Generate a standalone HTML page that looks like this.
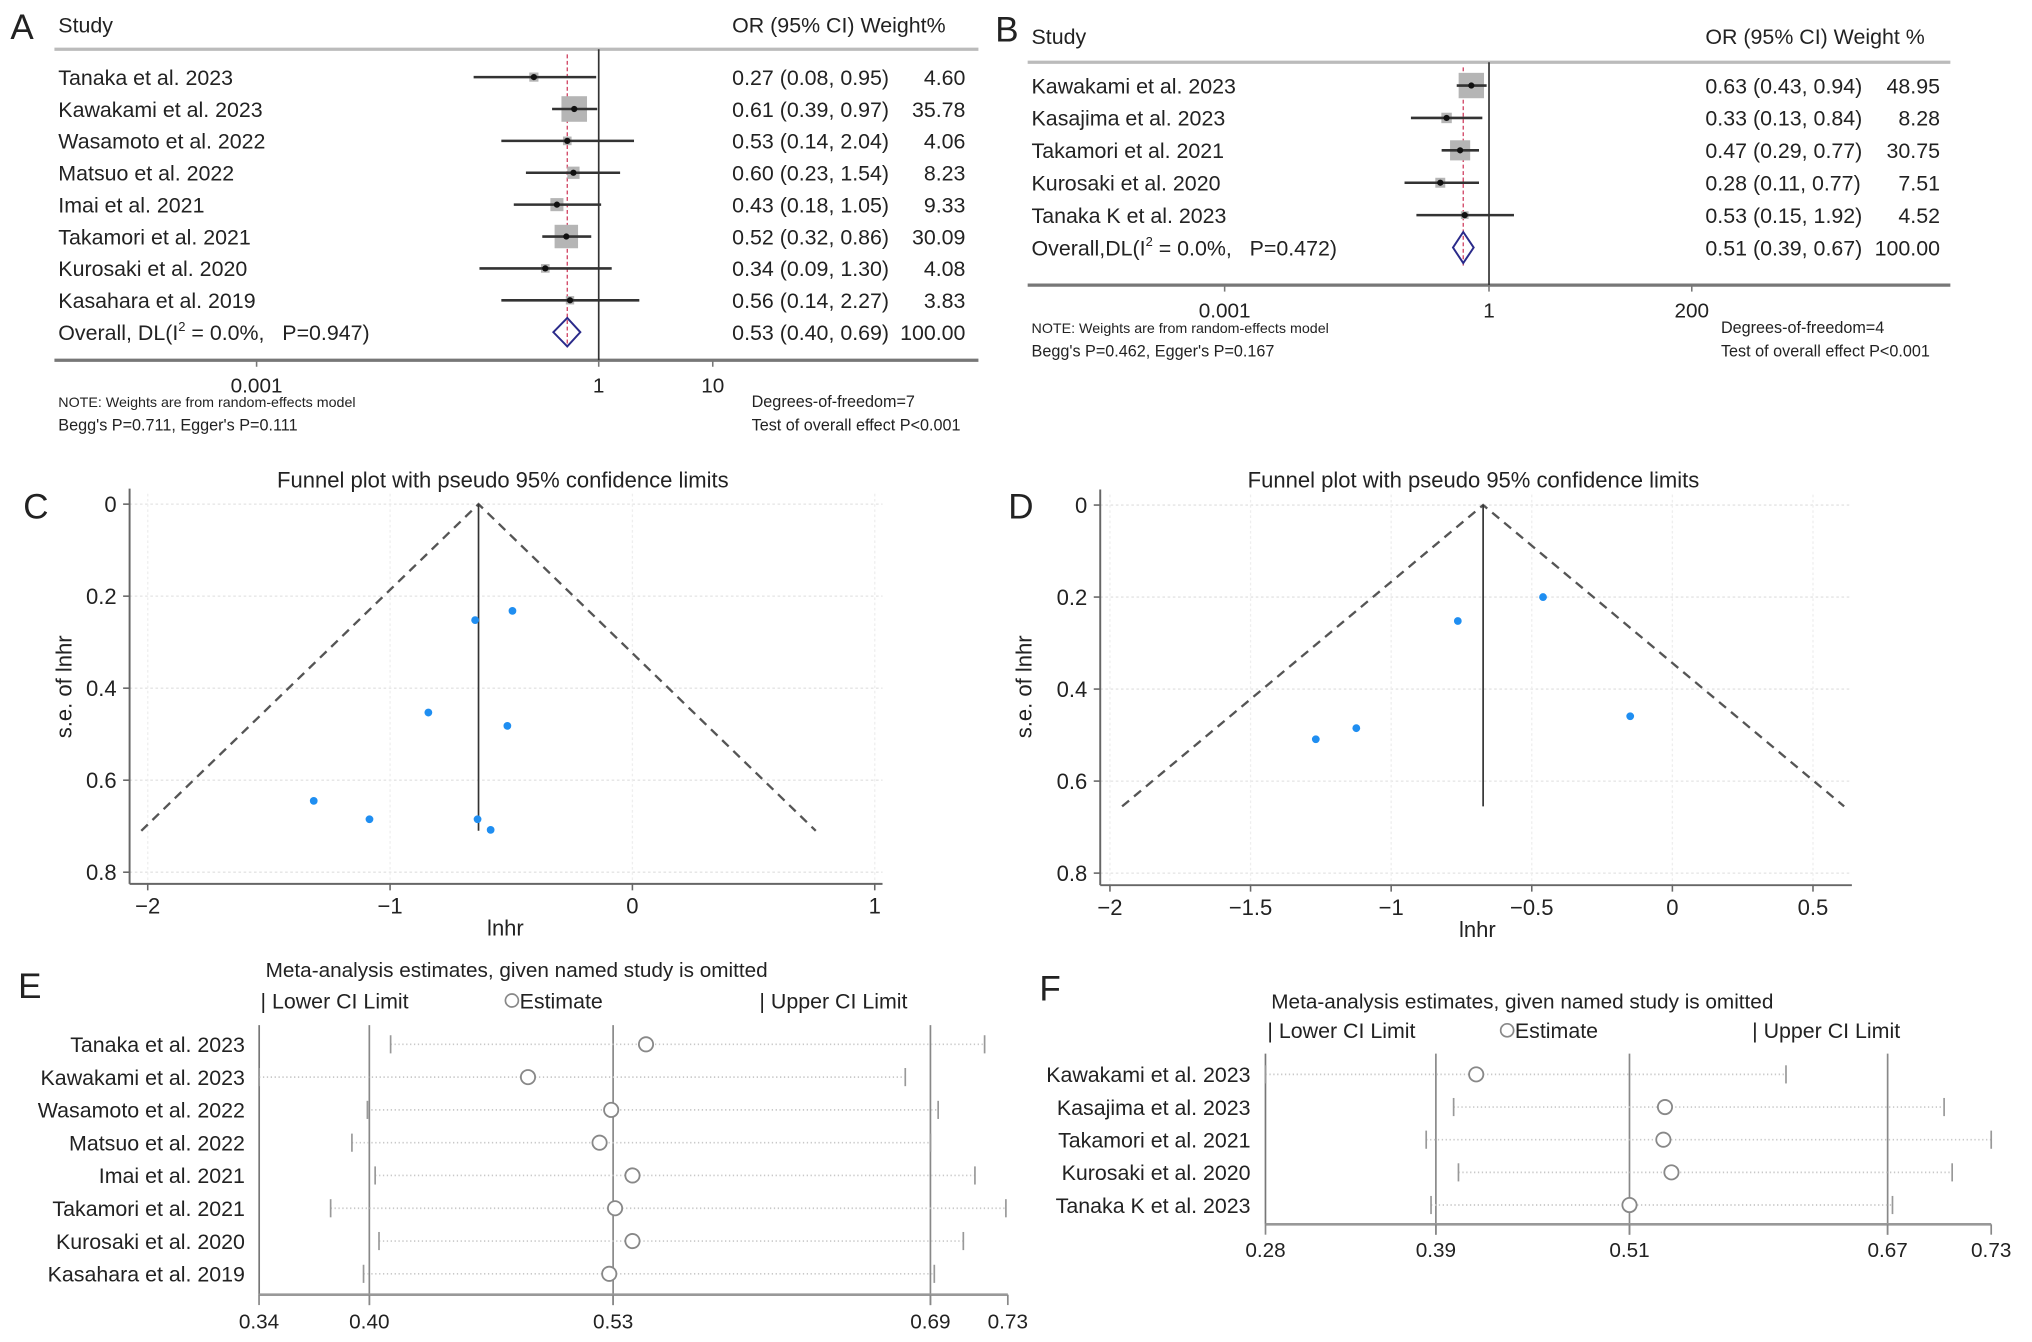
<!DOCTYPE html>
<html><head><meta charset="utf-8"><style>
html,body{margin:0;padding:0;background:#fff}
svg{display:block}
text{font-family:"Liberation Sans",Arial,sans-serif;fill:#222}
</style></head><body>
<svg id="fig" xmlns="http://www.w3.org/2000/svg" width="2032" height="1342" viewBox="0 0 1568 1035.5" preserveAspectRatio="none">
<g id="panelA"></g>
<g id="panelB"></g>
<g id="panelC"></g>
<g id="panelD"></g>
<g id="panelE"></g>
<g id="panelF"></g>
</svg>
<script>
// ---------- Panel A data ----------
const aStudies = ["Tanaka et al. 2023","Kawakami et al. 2023","Wasamoto et al. 2022","Matsuo et al. 2022","Imai et al. 2021","Takamori et al. 2021","Kurosaki et al. 2020","Kasahara et al. 2019"];
const aOR = [0.27,0.61,0.53,0.60,0.43,0.52,0.34,0.56];
const aLo = [0.08,0.39,0.14,0.23,0.18,0.32,0.09,0.14];
const aHi = [0.95,0.97,2.04,1.54,1.05,0.86,1.30,2.27];
const aW = [4.60,35.78,4.06,8.23,9.33,30.09,4.08,3.83];
const aPooled = [0.53,0.40,0.69];
const aTicks = [0.001,1,10];
const aTickLabels = ["0.001","1","10"];
// ---------- Panel B data ----------
const bStudies = ["Kawakami et al. 2023","Kasajima et al. 2023","Takamori et al. 2021","Kurosaki et al. 2020","Tanaka K et al. 2023"];
const bOR = [0.63,0.33,0.47,0.28,0.53];
const bLo = [0.43,0.13,0.29,0.11,0.15];
const bHi = [0.94,0.84,0.77,0.77,1.92];
const bW = [48.95,8.28,30.75,7.51,4.52];
const bPooled = [0.51,0.39,0.67];
const bTicks = [0.001,1,200];
const bTickLabels = ["0.001","1","200"];
// ---------- Panel C data ----------
const cX = [-0.495,-0.649,-0.842,-0.516,-1.315,-1.085,-0.639,-0.585];
const cSE = [0.232,0.252,0.453,0.482,0.645,0.685,0.685,0.708];
const cPooled = -0.635;
const cMaxSE = 0.71;
const cXTicks = [-2,-1,0,1];
const cXTickLabels = ["\u22122","\u22121","0","1"];
const cYTicks = [0,0.2,0.4,0.6,0.8];
const cYTickLabels = ["0","0.2","0.4","0.6","0.8"];
// ---------- Panel D data ----------
const dX = [-0.46,-0.763,-1.124,-1.268,-0.15];
const dSE = [0.2,0.252,0.485,0.509,0.459];
const dPooled = -0.673;
const dMaxSE = 0.655;
const dXTicks = [-2,-1.5,-1,-0.5,0,0.5];
const dXTickLabels = ["\u22122","\u22121.5","\u22121","\u22120.5","0","0.5"];
const dYTicks = [0,0.2,0.4,0.6,0.8];
const dYTickLabels = ["0","0.2","0.4","0.6","0.8"];
// ---------- Panel E data ----------
const eStudies = ["Tanaka et al. 2023","Kawakami et al. 2023","Wasamoto et al. 2022","Matsuo et al. 2022","Imai et al. 2021","Takamori et al. 2021","Kurosaki et al. 2020","Kasahara et al. 2019"];
const eLo = [0.411,0.343,0.399,0.391,0.403,0.380,0.405,0.397];
const eEst = [0.543,0.482,0.525,0.519,0.536,0.527,0.536,0.524];
const eHi = [0.718,0.677,0.694,0.690,0.713,0.729,0.707,0.692];
const eTicks = [0.343,0.40,0.526,0.69,0.73];
const eTickLabels = ["0.34","0.40","0.53","0.69","0.73"];
// ---------- Panel F data ----------
const fStudies = ["Kawakami et al. 2023","Kasajima et al. 2023","Takamori et al. 2021","Kurosaki et al. 2020","Tanaka K et al. 2023"];
const fLo = [0.2844,0.401,0.384,0.404,0.387];
const fEst = [0.415,0.532,0.531,0.536,0.510];
const fHi = [0.607,0.705,0.7342,0.710,0.673];
const fTicks = [0.2844,0.39,0.51,0.67,0.7342];
const fTickLabels = ["0.28","0.39","0.51","0.67","0.73"];

const NS="http://www.w3.org/2000/svg";
function mk(parent,tag,attrs,txt){const e=document.createElementNS(NS,tag);for(const k in attrs)e.setAttribute(k,attrs[k]);if(txt!==undefined)e.textContent=txt;parent.appendChild(e);return e;}
function f2(v){return v.toFixed(2);}

function forest(g,cfg,studies,or,lo,hi,w,pooled,ticks,tickLabels){
  const x=v=>cfg.x1+cfg.dec*Math.log10(v);
  let e;
  e=mk(g,"text",{x:cfg.letterX,y:cfg.letterY,"font-size":27},cfg.letter);
  
  
  e=mk(g,"text",{x:cfg.left+3,y:cfg.headY,"font-size":16.5},"Study");
  
  
  e=mk(g,"text",{x:cfg.ciX,y:cfg.headY,"font-size":16.5},cfg.headText);
  
  
  e=mk(g,"line",{x1:cfg.left,x2:cfg.right,y1:cfg.topY,y2:cfg.topY,stroke:"#bbb","stroke-width":2.5});
  
  
  e=mk(g,"line",{x1:cfg.left,x2:cfg.right,y1:cfg.axY,y2:cfg.axY,stroke:"#777","stroke-width":2.5});
  
  
  e=mk(g,"line",{x1:x(1),x2:x(1),y1:cfg.topY,y2:cfg.axY,stroke:"#333","stroke-width":1.3});
  
  
  e=mk(g,"line",{x1:x(pooled[0]),x2:x(pooled[0]),y1:cfg.topY+4,y2:cfg.dashEnd,stroke:"#d04060","stroke-width":1,"stroke-dasharray":"3 2"});
  
  
  ticks.forEach((t,i)=>{
    let l=mk(g,"line",{x1:x(t),x2:x(t),y1:cfg.axY,y2:cfg.axY+5,stroke:"#777","stroke-width":1.2});
    
    
    let tt=mk(g,"text",{x:x(t),y:cfg.axY+cfg.tlOff,"font-size":16,"text-anchor":"middle"},tickLabels[i]);
    
    
  });
  studies.forEach((s,i)=>{
    const y=cfg.row0+i*cfg.step;
    let t=mk(g,"text",{x:cfg.left+3,y:y+6,"font-size":16.5},s);
    
    
    const sz=cfg.k*Math.sqrt(w[i]);
    let b=mk(g,"rect",{x:x(or[i])-sz/2,y:y-sz/2,width:sz,height:sz,fill:"#b5b5b5"});
    
    
    let l=mk(g,"line",{x1:x(lo[i]),x2:x(hi[i]),y1:y,y2:y,stroke:"#333","stroke-width":2});
    
    
    let d=mk(g,"circle",{cx:x(or[i]),cy:y,r:2.4,fill:"#111"});
    
    
    let c=mk(g,"text",{x:cfg.ciX,y:y+6,"font-size":16.5},f2(or[i])+" ("+f2(lo[i])+", "+f2(hi[i])+")");
    
    
    let ww=mk(g,"text",{x:cfg.wX,y:y+6,"font-size":16.5,"text-anchor":"end"},f2(w[i]));
    
    
  });
  const oy=cfg.row0+studies.length*cfg.step;
  let ot=mk(g,"text",{x:cfg.left+3,y:oy+6,"font-size":16.5});
  
  
  ot.innerHTML=cfg.overallA+'<tspan dy="-7" font-size="10">2</tspan><tspan dy="7"> = 0.0%,&#160;&#160;&#160;'+cfg.overallP+')</tspan>';
  let dm=mk(g,"polygon",{points:`${x(pooled[1])},${oy} ${x(pooled[0])},${oy-cfg.dh} ${x(pooled[2])},${oy} ${x(pooled[0])},${oy+cfg.dh}`,fill:"none",stroke:"#2a2a8a","stroke-width":1.5});
  
  
  let oc=mk(g,"text",{x:cfg.ciX,y:oy+6,"font-size":16.5},f2(pooled[0])+" ("+f2(pooled[1])+", "+f2(pooled[2])+")");
  
  
  let ow=mk(g,"text",{x:cfg.wX,y:oy+6,"font-size":16.5,"text-anchor":"end"},"100.00");
  
  
  let n1=mk(g,"text",{x:cfg.left+3,y:cfg.noteY,"font-size":11},"NOTE: Weights are from random-effects model");
  
  
  let n2=mk(g,"text",{x:cfg.left+3,y:cfg.noteY+18,"font-size":12.5},cfg.begg);
  
  
  let n3=mk(g,"text",{x:cfg.dfX,y:cfg.noteY,"font-size":12.5},cfg.df);
  
  
  let n4=mk(g,"text",{x:cfg.dfX,y:cfg.noteY+18,"font-size":12.5},"Test of overall effect P<0.001");
  
  
}

forest(document.getElementById("panelA"),{x1:462,dec:88,letter:"A",letterX:8,letterY:30,left:42,right:755,headY:25,topY:38,axY:278,tlOff:25,row0:59.5,step:24.6,k:3.3,ciX:565,wX:745,dh:11,dashEnd:268,overallA:"Overall, DL(I",overallP:"P=0.947",noteY:314,dfX:580,begg:"Begg's P=0.711, Egger's P=0.111",df:"Degrees-of-freedom=7",headText:"OR (95% CI)  Weight%"},aStudies,aOR,aLo,aHi,aW,aPooled,aTicks,aTickLabels);
forest(document.getElementById("panelB"),{x1:1149,dec:68,letter:"B",letterX:768,letterY:32,left:793,right:1505,headY:34,topY:48,axY:220,tlOff:25,row0:66,step:25,k:2.8,ciX:1316,wX:1497,dh:12,dashEnd:205,overallA:"Overall,DL(I",overallP:"P=0.472",noteY:257,dfX:1328,begg:"Begg's P=0.462, Egger's P=0.167",df:"Degrees-of-freedom=4",headText:"OR (95% CI)  Weight %"},bStudies,bOR,bLo,bHi,bW,bPooled,bTicks,bTickLabels);

function funnel(g,cfg,xs,ses,pooled,maxSE,xt,xtl,yt,ytl){
  const x=v=>cfg.x0+(v-cfg.xmin)*cfg.xs;
  const y=s=>cfg.y0+s*355;
  let e;
  e=mk(g,"text",{x:cfg.titleX,y:376,"font-size":17,"text-anchor":"middle"},"Funnel plot with pseudo 95% confidence limits");
  
  
  e=mk(g,"text",{x:cfg.letterX,y:400,"font-size":27},cfg.letter);
  
  
  yt.forEach((t,i)=>{
    let gl=mk(g,"line",{x1:cfg.axX,x2:cfg.axR,y1:y(t),y2:y(t),stroke:"#e4e4e4","stroke-width":1,"stroke-dasharray":"2 2"});
    
    
    let tk=mk(g,"line",{x1:cfg.axX-5,x2:cfg.axX,y1:y(t),y2:y(t),stroke:"#666","stroke-width":1.2});
    
    
    let tl=mk(g,"text",{x:cfg.axX-10,y:y(t)+6,"font-size":17,"text-anchor":"end"},ytl[i]);
    
    
  });
  xt.forEach((t,i)=>{
    let gl=mk(g,"line",{x1:x(t),x2:x(t),y1:cfg.y0-8,y2:cfg.axY,stroke:"#eee","stroke-width":1,"stroke-dasharray":"2 2"});
    
    
    let tk=mk(g,"line",{x1:x(t),x2:x(t),y1:cfg.axY,y2:cfg.axY+5,stroke:"#666","stroke-width":1.2});
    
    
    let tl=mk(g,"text",{x:x(t),y:cfg.axY+23,"font-size":17,"text-anchor":"middle"},xtl[i]);
    
    
  });
  e=mk(g,"line",{x1:cfg.axX,x2:cfg.axX,y1:cfg.y0-12,y2:cfg.axY,stroke:"#666","stroke-width":1.5});
  
  
  e=mk(g,"line",{x1:cfg.axX,x2:cfg.axR,y1:cfg.axY,y2:cfg.axY,stroke:"#666","stroke-width":1.5});
  
  
  e=mk(g,"polyline",{points:`${x(pooled-1.96*maxSE)},${y(maxSE)} ${x(pooled)},${y(0)} ${x(pooled+1.96*maxSE)},${y(maxSE)}`,fill:"none",stroke:"#555","stroke-width":1.8,"stroke-dasharray":"7 5"});
  
  
  e=mk(g,"line",{x1:x(pooled),x2:x(pooled),y1:y(0),y2:y(maxSE),stroke:"#333","stroke-width":1.3});
  
  
  xs.forEach((v,i)=>{
    let p=mk(g,"circle",{cx:x(v),cy:y(ses[i]),r:3,fill:"#1f8ef1"});
    
    
  });
  e=mk(g,"text",{x:0,y:0,"font-size":17,"text-anchor":"middle",transform:`translate(${cfg.yTitleX},530) rotate(-90)`,"font-family":"DejaVu Sans, sans-serif"},"s.e. of lnhr");
  
  
  e=mk(g,"text",{x:cfg.xTitleX,y:cfg.axY+40,"font-size":17,"text-anchor":"middle"},"lnhr");
  
  
}
funnel(document.getElementById("panelC"),{x0:114,xmin:-2,xs:187,y0:389,axX:100,axR:681,axY:682,titleX:388,letterX:18,letter:"C",yTitleX:55,xTitleX:390},cX,cSE,cPooled,cMaxSE,cXTicks,cXTickLabels,cYTicks,cYTickLabels);
funnel(document.getElementById("panelD"),{x0:856.5,xmin:-2,xs:217,y0:389.7,axX:849,axR:1429,axY:683,titleX:1137,letterX:778,letter:"D",yTitleX:796,xTitleX:1140},dX,dSE,dPooled,dMaxSE,dXTicks,dXTickLabels,dYTicks,dYTickLabels);

function influence(g,cfg,studies,lo,est,hi,ticks,tickLabels){
  const x=v=>cfg.xa+(v-cfg.va)*cfg.sc;
  let e;
  e=mk(g,"text",{x:cfg.letterX,y:cfg.letterY,"font-size":27},cfg.letter);
  
  
  e=mk(g,"text",{x:cfg.titleX,y:cfg.titleY,"font-size":16},"Meta-analysis estimates, given named study is omitted");
  
  
  const ly=cfg.legY;
  e=mk(g,"text",{x:cfg.lgX[0],y:ly+6,"font-size":16.5},"| Lower CI Limit");
  
  
  e=mk(g,"circle",{cx:cfg.lgX[1]+6,cy:ly,r:5,fill:"none",stroke:"#888","stroke-width":1.3});
  
  
  e=mk(g,"text",{x:cfg.lgX[1]+12,y:ly+6,"font-size":16.5},"Estimate");
  
  
  e=mk(g,"text",{x:cfg.lgX[2],y:ly+6,"font-size":16.5},"| Upper CI Limit");
  
  
  e=mk(g,"line",{x1:cfg.xL,x2:cfg.xL,y1:cfg.topY,y2:cfg.axY,stroke:"#777","stroke-width":1.3});
  
  
  [1,2,3].forEach(i=>{
    let r=mk(g,"line",{x1:x(ticks[i]),x2:x(ticks[i]),y1:cfg.topY,y2:cfg.axY+8,stroke:"#888","stroke-width":1.3});
    
    
  });
  e=mk(g,"line",{x1:cfg.xL,x2:x(ticks[4]),y1:cfg.axY,y2:cfg.axY,stroke:"#999","stroke-width":2});
  
  
  ticks.forEach((t,i)=>{
    let tk=mk(g,"line",{x1:x(t),x2:x(t),y1:cfg.axY,y2:cfg.axY+8,stroke:"#888","stroke-width":1.3});
    
    
    let tl=mk(g,"text",{x:x(t),y:cfg.tickY,"font-size":16,"text-anchor":"middle"},tickLabels[i]);
    
    
  });
  studies.forEach((s,i)=>{
    const y=cfg.rows[0]+i*cfg.step;
    let t=mk(g,"text",{x:cfg.labX,y:y+6,"font-size":16.5,"text-anchor":"end"},s);
    
    
    let l=mk(g,"line",{x1:x(lo[i]),x2:x(hi[i]),y1:y,y2:y,stroke:"#c8c8c8","stroke-width":1.3,"stroke-dasharray":"1 2"});
    
    
    let a=mk(g,"line",{x1:x(lo[i]),x2:x(lo[i]),y1:y-7,y2:y+7,stroke:"#999","stroke-width":1.3});
    
    
    let b=mk(g,"line",{x1:x(hi[i]),x2:x(hi[i]),y1:y-7,y2:y+7,stroke:"#999","stroke-width":1.3});
    
    
    let c=mk(g,"circle",{cx:x(est[i]),cy:y,r:5.5,fill:"#fff",stroke:"#888","stroke-width":1.4});
    
    
  });
}
influence(document.getElementById("panelE"),{xa:285,va:0.40,sc:1493,letter:"E",letterX:14,letterY:770,titleX:205,titleY:754,legY:772,lgX:[201,389,586],xL:200,topY:791,axY:999,tickY:1025,labX:189,rows:[805.8],step:25.3},eStudies,eLo,eEst,eHi,eTicks,eTickLabels);
influence(document.getElementById("panelF"),{xa:1108,va:0.39,sc:1245,letter:"F",letterX:802,letterY:772,titleX:981,titleY:778,legY:795,lgX:[978,1157,1352],xL:976.5,topY:813,axY:944.7,tickY:970,labX:965,rows:[829],step:25.2},fStudies,fLo,fEst,fHi,fTicks,fTickLabels);
</script>
</body></html>
